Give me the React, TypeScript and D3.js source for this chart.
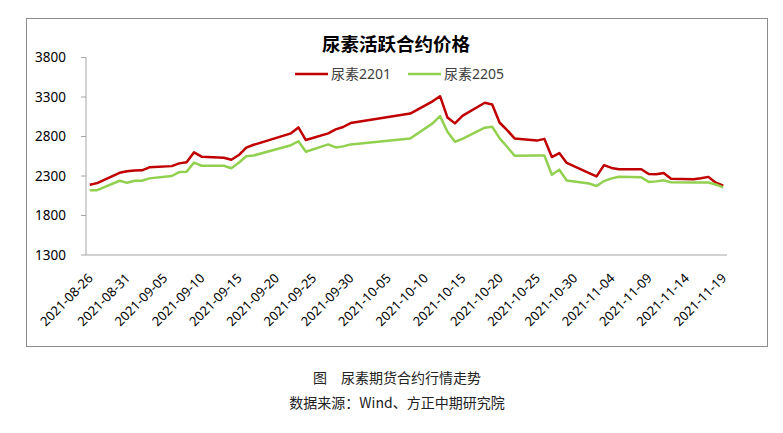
import React from 'react';
import * as d3 from 'd3';

const dates = [
  '2021-08-26','2021-08-27','2021-08-30','2021-08-31','2021-09-01','2021-09-02','2021-09-03',
  '2021-09-06','2021-09-07','2021-09-08','2021-09-09','2021-09-10',
  '2021-09-13','2021-09-14','2021-09-15','2021-09-16','2021-09-17',
  '2021-09-22','2021-09-23','2021-09-24','2021-09-27','2021-09-28','2021-09-29','2021-09-30',
  '2021-10-08','2021-10-11','2021-10-12','2021-10-13','2021-10-14','2021-10-15',
  '2021-10-18','2021-10-19','2021-10-20','2021-10-21','2021-10-22',
  '2021-10-25','2021-10-26','2021-10-27','2021-10-28','2021-10-29',
  '2021-11-01','2021-11-02','2021-11-03','2021-11-04','2021-11-05',
  '2021-11-08','2021-11-09','2021-11-10','2021-11-11','2021-11-12',
  '2021-11-15','2021-11-16','2021-11-17','2021-11-18','2021-11-19',
];

const ur2201 = [
  2190, 2210, 2340, 2360, 2370, 2372, 2410,
  2425, 2460, 2475, 2600, 2545,
  2530, 2505, 2565, 2660, 2695,
  2840, 2915, 2755, 2840, 2890, 2920, 2970,
  3090, 3245, 3310, 3040, 2966, 3062,
  3227, 3206, 2974, 2881, 2776,
  2748, 2770, 2540, 2590, 2465,
  2337, 2295, 2437, 2402, 2386,
  2386, 2326, 2323, 2337, 2264,
  2260, 2272, 2289, 2215, 2178,
];

const ur2205 = [
  2120, 2120, 2240, 2215, 2240, 2240, 2270,
  2300, 2350, 2355, 2470, 2430,
  2430, 2398, 2468, 2550, 2560,
  2690, 2740, 2607, 2700, 2662, 2675, 2700,
  2775, 2966, 3058, 2860, 2734, 2771,
  2911, 2923, 2776, 2670, 2556,
  2561, 2560, 2316, 2380, 2243,
  2205, 2173, 2236, 2270, 2291,
  2283, 2225, 2232, 2245, 2221,
  2217, 2217, 2217, 2192, 2156,
];

const seriesNames = ['尿素2201', '尿素2205'];
const seriesColors = ['#C00000', '#92D050'];
const yTicks = [1300, 1800, 2300, 2800, 3300, 3800];
const xTickLabels = [
  '2021-08-26','2021-08-31','2021-09-05','2021-09-10','2021-09-15','2021-09-20',
  '2021-09-25','2021-09-30','2021-10-05','2021-10-10','2021-10-15','2021-10-20',
  '2021-10-25','2021-10-30','2021-11-04','2021-11-09','2021-11-14','2021-11-19',
];
const title = '尿素活跃合约价格';
const caption1 = '图　尿素期货合约行情走势';
const caption2 = '数据来源：Wind、方正中期研究院';

const parse = d3.timeParse('%Y-%m-%d');
const mid = (s: string) => d3.timeHour.offset(parse(s) as Date, 12);

export default function App() {
  const W = 783, H = 433;
  const left = 86, right = 727, top = 57.5, bottom = 255;
  const x = d3.scaleTime()
    .domain([parse('2021-08-26') as Date, parse('2021-11-20') as Date])
    .range([left, right]);
  const y = d3.scaleLinear().domain([1300, 3800]).range([bottom, top]);
  const series = [ur2201, ur2205];
  const line = d3.line<[string, number]>()
    .x(d => x(mid(d[0])))
    .y(d => y(d[1]));
  const numFont = "'Noto Sans', 'Noto Sans CJK SC', sans-serif";
  const cjkFont = "'Noto Sans CJK SC', sans-serif";

  return (
    <svg width={W} height={H} style={{ position: 'absolute', left: 0, top: 0, background: '#fff' }}>
      <rect x={0} y={0} width={W} height={H} fill="#fff" />
      <rect x={26.5} y={18.5} width={741} height={328} fill="none" stroke="#8c8c8c" strokeWidth={1} />
      <text x={396} y={51} textAnchor="middle" fontFamily={cjkFont} fontWeight="bold" fontSize={18.5} fill="#000">{title}</text>

      {/* legend */}
      {seriesNames.map((n, i) => {
        const lx = [295, 408][i];
        return (
          <g key={n}>
            <line x1={lx} x2={lx + 33} y1={74} y2={74} stroke={seriesColors[i]} strokeWidth={2.5} />
            <text x={lx + 36} y={79} fontFamily={numFont} fontSize={14} fill="#404040">{n}</text>
          </g>
        );
      })}

      {/* y axis */}
      <line x1={left} x2={left} y1={top} y2={bottom} stroke="#a6a6a6" strokeWidth={1} />
      {yTicks.map(t => (
        <g key={t}>
          <line x1={left - 5} x2={left} y1={y(t)} y2={y(t)} stroke="#a6a6a6" strokeWidth={1} />
          <text x={66} y={y(t)} dy="0.36em" textAnchor="end" fontFamily={numFont} fontSize={13.5} fill="#000">{t}</text>
        </g>
      ))}

      {/* x axis */}
      <line x1={left} x2={right} y1={bottom} y2={bottom} stroke="#a6a6a6" strokeWidth={1} />
      {xTickLabels.map(s => {
        const tx = x(mid(s));
        return (
          <text key={s} transform={`translate(${tx + 4},${279}) rotate(-45)`} textAnchor="end"
            fontFamily={numFont} fontSize={13} fill="#000">{s}</text>
        );
      })}

      {/* lines */}
      {series.map((vals, i) => (
        <path key={i} d={line(dates.map((dd, k) => [dd, vals[k]] as [string, number])) || ''}
          fill="none" stroke={seriesColors[i]} strokeWidth={2.5} strokeLinejoin="round" />
      ))}
      {/* draw red on top like reference? reference draws green over red */}

      <text x={397} y={383} textAnchor="middle" fontFamily={cjkFont} fontSize={14} fill="#222">{caption1}</text>
      <text x={397} y={408} textAnchor="middle" fontFamily={cjkFont} fontSize={14} fill="#222">{caption2}</text>
    </svg>
  );
}
